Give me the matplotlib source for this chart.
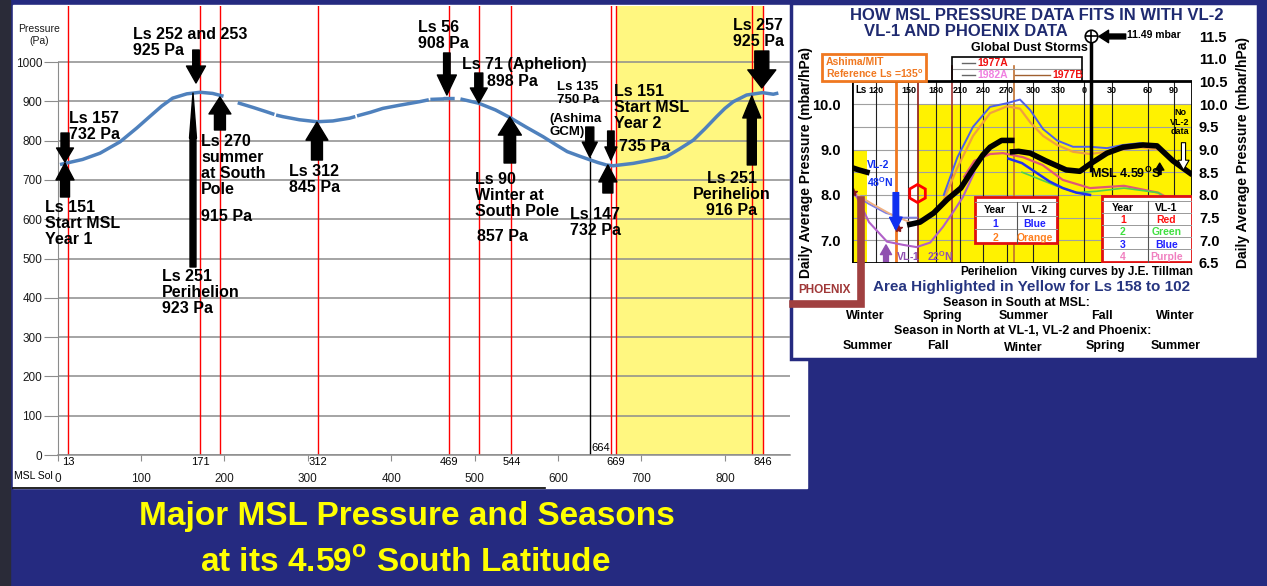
import matplotlib.pyplot as plt
import numpy as np
from matplotlib.patches import Rectangle
from matplotlib.lines import Line2D

W, H = 1267, 586
nan = np.nan

# ---------------- main chart: MSL daily pressure
msl_sol = [5, 30, 51, 75, 95, 111, 125, 138, 155, 171, 186, 197, nan,
           218, 235, 251, 258, nan, 264, 270, 290, 311, 330, 350, 355, nan,
           361, 375, 390, 410, 434, 443, nan, 449, 461, nan, 465, 474, nan,
           485, 505, 525, 542, 562, 582, 597, 611, 625, 637, 648, 658, 666,
           678, 690, 710, 730, 745, 762, 776, 790, 800, 810, 826, 845, 858, 862]
msl_pa = [740, 752, 768, 797, 832, 862, 888, 908, 919, 923, 920, 914, nan,
          895, 884, 873, 868, nan, 864, 861, 853, 848, 850, 857, 860, nan,
          864, 872, 882, 890, 899, 903, nan, 905, 906, nan, 907, 907, nan,
          905, 895, 878, 859, 834, 810, 790, 772, 761, 752, 744, 738, 736,
          739, 742, 750, 759, 778, 801, 830, 861, 882, 899, 916, 922, 918, 920]

red_line_sols = [13, 171, 195, 312, 469, 505, 544, 664, 669, 832, 846]
labelled_sols = [13, 171, 312, 469, 544, 669, 846]
ashima_sol, ashima_pa = 638, 758
yellow_sols = (669, 846)
pa_ticks = list(range(0, 1001, 100))
sol_ticks = list(range(0, 801, 100))

# arrows: sol, tip Pa, tail Pa, shaft / head width / head length (px)
arrows = [
    (166.0, 946.6, 1030.5, 6.5, 19, 17),
    (9.0, 745.5, 819.3, 8, 17, 14),
    (9.0, 743.0, 656.5, 9, 18, 17),
    (194.7, 911.0, 827.0, 11, 22, 17),
    (311.0, 847.0, 750.6, 11, 22, 18),
    (466.7, 916.0, 1023.0, 6.5, 19, 20),
    (505.0, 895.7, 972.0, 8, 17, 15),
    (542.2, 860.0, 743.0, 11.5, 23, 18),
    (638.0, 758.0, 834.6, 8, 15, 15),
    (663.3, 750.6, 824.4, 6.5, 12, 13),
    (659.7, 738.0, 666.7, 10, 18, 17),
    (844.2, 934.0, 1028.0, 14, 28, 18),
    (832.2, 913.5, 738.0, 9, 18, 22),
    (162.4, 921.0, 478.4, 6, 7, 45),
]

# ---------------- inset (Viking / Phoenix comparison), x in % of the frame
ls_labels = ['120', '150', '180', '210', '240', '270', '300', '330', '0', '30', '60', '90']
ls_pos = [7.1, 16.6, 24.6, 31.8, 38.6, 45.5, 53.3, 60.7, 68.2, 76.4, 87.1, 94.7]
left_ticks = [10.0, 9.0, 8.0, 7.0]
right_ticks = [11.5, 11.0, 10.5, 10.0, 9.5, 9.0, 8.5, 8.0, 7.5, 7.0, 6.5]

msl_u = [0, 2, 4.4, nan, 17, 20, 24, 28, 32, 35, 38.5, 40.6, 44, 47, nan, 47.2, 49,
         52.4, 57, 63, 67, 70, 75, 79.7, 85.6, 89.7, 94.4, 99.4]
msl_p = [8.6, 8.55, 8.5, nan, 7.35, 7.4, 7.6, 7.9, 8.15, 8.5, 8.88, 9.05, 9.2, 9.2, nan,
         8.95, 8.96, 8.92, 8.75, 8.55, 8.52, 8.68, 8.92, 9.05, 9.1, 9.08, 8.75, 8.48]
spike_u, spike_p = 70.3, 11.49

vl2_u = [27, 31, 35.6, 40.6, 45.6, 49.4, 52.4, 56.2, 60.3, 65, 70, 75, 79.7, 84.7, 89.7]
vl2_y1 = [8.0, 8.83, 9.5, 9.94, 10.02, 10.1, 9.87, 9.45, 9.2, 9.06, 9.06, 9.03, 9.1, 9.14, 9.06]
vl2_y2 = [7.9, 8.6, 9.3, 9.8, 9.95, 9.9, 9.6, 9.3, 9.1, 8.95, 8.9, 8.95, 9.0, 9.05, 9.0]
vl2_left_u = [0.5, 5, 10, 15, 19]
vl2_left_p = [8.0, 7.8, 7.6, 7.5, 7.5]

vl1_u = [33, 36, 40.6, 44.4, 50.3, 56, 62, 70, 80, 90, 95, 99.4]
vl1_red = [8.4, 8.75, 8.9, 8.92, 8.83, 8.66, 8.33, 8.15, 8.2, 8.05, 7.85, 7.62]
vl1_green_u = [50, 55, 60, 66, 72, 80, 90, 99]
vl1_green = [8.5, 8.35, 8.2, 8.05, 8.08, 8.15, 8.05, 7.6]
vl1_blue_u = [46, 50, 54, 58, 62, 66, 70]
vl1_blue = [8.8, 8.7, 8.5, 8.3, 8.15, 8.05, 8.0]
vl1_purple_u = [0.5, 5, 10.3, 15, 19, 23, 26.8, 30, 32.6, 36]
vl1_purple = [8.1, 7.4, 6.97, 6.9, 6.85, 6.95, 7.3, 7.65, 7.95, 8.5]
phx_u = [0.5, 6, 12, 17]
phx_p = [8.05, 7.8, 7.55, 7.4]
ashima_u = 12.9
dust_u = [19.4, 29.4, 47.6]
dust_colors = ['#8B1A1A', '#A03030', '#C07030']

NAVY = '#252A80'
SANS = ['Liberation Sans', 'DejaVu Sans']
NARROW = ['Liberation Sans Narrow', 'Liberation Sans', 'DejaVu Sans']
plt.rcParams['font.family'] = SANS
plt.rcParams['mathtext.fontset'] = 'custom'
plt.rcParams['mathtext.rm'] = 'Liberation Sans'
plt.rcParams['mathtext.bf'] = 'Liberation Sans:bold'


def fx(px):
    return px / W


def fy(py):
    return 1 - py / H


fig = plt.figure(figsize=(W / 100, H / 100), dpi=100)
fig.patch.set_facecolor(NAVY)
fig.patches.append(Rectangle((0, 0), fx(10), 1, transform=fig.transFigure,
                             color='#2A2B38', zorder=-2))
fig.patches.append(Rectangle((fx(13), fy(488)), (807 - 13) / W, (488 - 5) / H,
                             transform=fig.transFigure, color='white', zorder=-2))
fig.patches.append(Rectangle((fx(791), fy(359)), (1258 - 791) / W, (359 - 3) / H,
                             transform=fig.transFigure, fc='white', ec=NAVY, lw=2.5, zorder=-1.5))
fig.lines.append(Line2D([fx(13), fx(545)], [fy(488), fy(488)], transform=fig.transFigure,
                        color='black', lw=1.2))

# ================= main chart
ax = fig.add_axes([57.5 / W, fy(455), 732.5 / W, 448.8 / H])
ax.patch.set_alpha(0)
ax.set_xlim(0, 878)
ax.set_ylim(0, 1142)
ax.axvspan(*yellow_sols, color='#FFF780', zorder=0, lw=0)
ax.set_yticks(pa_ticks)
ax.set_xticks(sol_ticks)
ax.yaxis.grid(True, color='#8C8C8C', lw=1.1, zorder=0.5)
ax.set_axisbelow(True)
for s in red_line_sols:
    ax.axvline(s, color='#FF0000', lw=1, zorder=1)
ax.plot([ashima_sol, ashima_sol], [0, ashima_pa], color='black', lw=1, zorder=1)
ax.plot(msl_sol, msl_pa, color='#4F81BD', lw=2.5, zorder=3)

for side in ['top', 'right']:
    ax.spines[side].set_visible(False)
ax.spines['left'].set_bounds(0, 1000)
ax.spines['left'].set_color('#8C8C8C')
ax.spines['bottom'].set_color('#8C8C8C')
ax.spines['bottom'].set_linewidth(1.1)
ax.tick_params(axis='y', length=10, color='#8C8C8C', labelsize=8.5, pad=1, labelcolor='#1A1A1A')
ax.tick_params(axis='x', length=4, color='#8C8C8C', labelsize=8.5, pad=9, labelcolor='#1A1A1A')
for lab in ax.get_xticklabels():
    lab.set_family(NARROW)

for s in labelled_sols:
    ax.annotate(str(s), (s, 0), xytext=(0, -1.5), textcoords='offset points',
                ha='center', va='top', fontsize=8, family=NARROW)
ax.annotate('664', (664, 0), xytext=(-1, 1.5), textcoords='offset points',
            ha='right', va='bottom', fontsize=8, family=NARROW)
fig.text(fx(14), fy(476), 'MSL Sol', va='center', fontsize=7.5, family=NARROW)
fig.text(fx(39), fy(35), 'Pressure\n(Pa)', ha='center', va='center', fontsize=7.5,
         linespacing=1.25, color='#1A1A1A')

for s, tip, tail, shaft, hw, hl in arrows:
    style = 'simple,head_width=%.1f,head_length=%.1f,tail_width=%.1f' % (hw * 0.72, hl * 0.72, shaft * 0.72)
    ax.annotate('', xy=(s, tip), xytext=(s, tail),
                arrowprops=dict(arrowstyle=style, color='black', mutation_scale=1,
                                shrinkA=0, shrinkB=0), zorder=4)

notes = [
    (133, 27, 'Ls 252 and 253\n925 Pa', 'left'),
    (69, 111, 'Ls 157\n732 Pa', 'left'),
    (45, 200, 'Ls 151\nStart MSL\nYear 1', 'left'),
    (162, 269, 'Ls 251\nPerihelion\n923 Pa', 'left'),
    (201, 134, 'Ls 270\nsummer\nat South\nPole', 'left'),
    (201, 209, '915 Pa', 'left'),
    (289, 164, 'Ls 312\n845 Pa', 'left'),
    (418, 20, 'Ls 56\n908 Pa', 'left'),
    (462, 57, 'Ls 71 (Aphelion)', 'left'),
    (487, 74, '898 Pa', 'left'),
    (475, 172, 'Ls 90\nWinter at\nSouth Pole', 'left'),
    (477, 229, '857 Pa', 'left'),
    (614, 84, 'Ls 151\nStart MSL\nYear 2', 'left'),
    (619, 139, '735 Pa', 'left'),
    (570, 207, 'Ls 147\n732 Pa', 'left'),
    (733, 18, 'Ls 257\n925 Pa', 'left'),
]
for px, py, txt, ha in notes:
    fig.text(fx(px), fy(py), txt, ha=ha, va='top', fontsize=11.5, fontweight='bold',
             linespacing=1.08)
fig.text(fx(732), fy(171), 'Ls 251\nPerihelion\n916 Pa', ha='center', va='top',
         fontsize=11.5, fontweight='bold', linespacing=1.08, multialignment='center')
fig.text(fx(578), fy(81), 'Ls 135\n750 Pa', ha='center', va='top', fontsize=9.5,
         fontweight='bold', linespacing=1.12)
fig.text(fx(549), fy(113), '(Ashima\nGCM)', ha='left', va='top', fontsize=9.5,
         fontweight='bold', linespacing=1.12)

# bottom title
fig.text(fx(407), fy(517), 'Major MSL Pressure and Seasons', ha='center', va='center',
         color='#FFFF00', fontsize=24, fontweight='bold', family=NARROW)
fig.text(fx(405), fy(563), r'at its 4.59$^{\mathbf{o}}$ South Latitude', ha='center',
         va='center', color='#FFFF00', fontsize=24, fontweight='bold', family=NARROW)

# ================= inset chart
ix = fig.add_axes([fx(852), fy(263), 340 / W, 227 / H])
ix.patch.set_alpha(0)
ix.set_xlim(0, 100)
ix.set_ylim(6.5, 11.5)
for sp in ix.spines.values():
    sp.set_visible(False)
ix.add_patch(Rectangle((19.4, 6.5), 80.6, 3.5, color='#FFF200', lw=0, zorder=0))
ix.add_patch(Rectangle((0, 6.5), 4.4, 2.5, color='#FFF200', lw=0, zorder=0))
for p in np.arange(7.0, 10.01, 0.5):
    ix.plot([0, 100], [p, p], color='#A0A0A0', lw=0.8, zorder=0.5)
for u in ls_pos:
    ix.plot([u, u], [6.5, 10.5], color='#202020', lw=0.8, zorder=0.6)
for u, c in zip(dust_u, dust_colors):
    ix.plot([u, u], [6.5, 10.85], color=c, lw=1.2, zorder=0.7)
ix.plot([ashima_u, ashima_u], [6.5, 10.49], color='#F07820', lw=2, zorder=2)
ix.add_patch(Rectangle((0, 6.5), 100, 4.0, fill=False, ec='black', lw=2, zorder=5))

ix.plot(vl2_left_u, vl2_left_p, color='#8080E0', lw=1.3, zorder=2)
ix.plot(phx_u, phx_p, color='#F0B080', lw=1.3, zorder=2)
ix.plot(vl1_purple_u, vl1_purple, color='#B060C8', lw=1.5, zorder=2)
ix.plot(vl1_u, vl1_red, color='#E05878', lw=1.6, zorder=2)
ix.plot(vl1_green_u, vl1_green, color='#50D050', lw=1.2, zorder=2)
ix.plot(vl1_blue_u, vl1_blue, color='#2030F0', lw=1.8, zorder=2)
ix.plot(vl2_u, vl2_y2, color='#F0A040', lw=1.6, zorder=2)
ix.plot(vl2_u, vl2_y1, color='#5060E8', lw=1.4, zorder=2)
ix.plot(msl_u, msl_p, color='black', lw=4, zorder=3)
ix.plot([spike_u, spike_u], [8.55, spike_p], color='black', lw=2.5, zorder=3)
ix.plot([spike_u], [spike_p], marker='o', ms=9, mfc='white', mec='black', mew=1.2, zorder=6,
        clip_on=False)
ix.plot([spike_u], [spike_p], marker='+', ms=9, color='black', mew=1.2, zorder=6, clip_on=False)
ix.plot([19.1], [8.04], marker='h', ms=13, mfc='none', mec='red', mew=2, zorder=4)
ix.plot([0.3, 13.5], [8.06, 7.27], ls='none', marker='*', ms=6, color='#8B1A1A', zorder=4)

ix.annotate('', xy=(ashima_u, 7.23), xytext=(ashima_u, 8.05),
            arrowprops=dict(arrowstyle='simple,head_width=9,head_length=9,tail_width=4',
                            color='#1030F0', mutation_scale=1, shrinkA=0, shrinkB=0), zorder=4)
ix.annotate('', xy=(10, 6.9), xytext=(10, 6.52),
            arrowprops=dict(arrowstyle='simple,head_width=8,head_length=7,tail_width=3.5',
                            color='#9050B0', mutation_scale=1, shrinkA=0, shrinkB=0), zorder=4)
ix.annotate('', xy=(90.5, 8.7), xytext=(90.5, 8.45),
            arrowprops=dict(arrowstyle='simple,head_width=6,head_length=5,tail_width=2',
                            color='black', mutation_scale=1, shrinkA=0, shrinkB=0), zorder=4)
ix.annotate('', xy=(97.5, 8.55), xytext=(97.5, 9.15),
            arrowprops=dict(arrowstyle='simple,head_width=8,head_length=7,tail_width=3',
                            fc='white', ec='black', lw=0.8, mutation_scale=1,
                            shrinkA=0, shrinkB=0), zorder=4)

ix.set_yticks(left_ticks)
ix.set_yticklabels(['%.1f' % v for v in left_ticks], fontsize=10.5, fontweight='bold', family=NARROW)
ix.tick_params(axis='y', length=0, pad=8)
ix.set_xticks([])
ir = ix.twinx()
for sp in ir.spines.values():
    sp.set_visible(False)
ir.set_ylim(6.5, 11.5)
ir.set_yticks(right_ticks)
ir.set_yticklabels(['%.1f' % v for v in right_ticks], fontsize=10.5, fontweight='bold', family=NARROW)
ir.tick_params(axis='y', length=0, pad=5)

ix.text(2.5, 10.31, 'Ls', fontsize=7, fontweight='bold', family=NARROW, va='center', ha='center')
for u, lab in zip(ls_pos, ls_labels):
    ix.text(u, 10.31, lab, fontsize=6.5, fontweight='bold', family=NARROW, va='center', ha='center')


# tables
def table(u0, u1, p0, p1, udiv, rows, header, colors, ucols):
    ix.add_patch(Rectangle((u0, p0), u1 - u0, p1 - p0, fc='white', ec='#E01010', lw=2, zorder=6))
    n = len(rows) + 1
    step = (p1 - p0) / (n + 0.4)
    for k in range(1, n + 1):
        ix.plot([u0, u1], [p1 - (k - 0.6) * step] * 2, color='#999999', lw=0.7, zorder=6.5)
    ix.plot([udiv, udiv], [p0, p1 - 0.4 * step], color='#555555', lw=0.8, zorder=6.5)
    ix.text(ucols[0], p1 - 1.0 * step, header[0], ha='center', va='center', fontsize=7.5,
            fontweight='bold', family=NARROW, zorder=7)
    ix.text(ucols[1], p1 - 1.0 * step, header[1], ha='center', va='center', fontsize=7.5,
            fontweight='bold', family=NARROW, zorder=7)
    for k, (yr, name) in enumerate(rows):
        pp = p1 - (k + 2.0) * step
        ix.text(ucols[0], pp, yr, ha='center', va='center', fontsize=7.5, fontweight='bold',
                family=NARROW, color=colors[k], zorder=7)
        ix.text(ucols[1], pp, name, ha='center', va='center', fontsize=7.5, fontweight='bold',
                family=NARROW, color=colors[k], zorder=7)


table(36.2, 60.3, 6.94, 7.96, 48.5, [('1', 'Blue'), ('2', 'Orange')], ('Year', 'VL -2'),
      ['#2020FF', '#FF8020'], (42.1, 53.8))
table(73.4, 99.9, 6.53, 7.98, 87.2, [('1', 'Red'), ('2', 'Green'), ('3', 'Blue'), ('4', 'Purple')],
      ('Year', 'VL-1'), ['#FF1010', '#40E040', '#2020FF', '#F080C0'], (79.7, 92.5))

# inset labels in figure pixels
fig.text(fx(1037), fy(16), 'HOW MSL PRESSURE DATA FITS IN WITH VL-2', ha='center', va='center',
         fontsize=12, fontweight='bold', color='#1F2A70', family=NARROW)
fig.text(fx(966), fy(32), 'VL-1 AND PHOENIX DATA', ha='center', va='center',
         fontsize=12, fontweight='bold', color='#1F2A70', family=NARROW)
fig.text(fx(1029), fy(48), 'Global Dust Storms', ha='center', va='center', fontsize=9,
         fontweight='bold', family=NARROW)
fig.patches.append(Rectangle((fx(952), fy(81)), 130 / W, 24 / H, transform=fig.transFigure,
                             fill=False, ec='black', lw=1.2, zorder=3))
fig.lines.append(Line2D([fx(952), fx(1082)], [fy(69), fy(69)], transform=fig.transFigure,
                        color='#999999', lw=0.8))
fig.lines.append(Line2D([fx(962), fx(975)], [fy(63), fy(63)], transform=fig.transFigure,
                        color='#666666', lw=1))
fig.lines.append(Line2D([fx(962), fx(975)], [fy(75), fy(75)], transform=fig.transFigure,
                        color='#666666', lw=1))
fig.lines.append(Line2D([fx(1015), fx(1050)], [fy(75), fy(75)], transform=fig.transFigure,
                        color='#A06030', lw=1))
fig.text(fx(977), fy(63), '1977A', va='center', fontsize=7.5, fontweight='bold', color='#F01010',
         family=NARROW)
fig.text(fx(977), fy(75), '1982A', va='center', fontsize=7.5, fontweight='bold', color='#F080E0',
         family=NARROW)
fig.text(fx(1052), fy(75), '1977B', va='center', fontsize=7.5, fontweight='bold', color='#F01010',
         family=NARROW)
fig.text(fx(1127), fy(35), '11.49 mbar', va='center', fontsize=7.5, fontweight='bold',
         family=NARROW)
ix.annotate('', xy=(72.6, 11.49), xytext=(80.5, 11.49),
            arrowprops=dict(arrowstyle='simple,head_width=9,head_length=7,tail_width=3.5',
                            color='black', mutation_scale=1, shrinkA=0, shrinkB=0),
            annotation_clip=False)

fig.patches.append(Rectangle((fx(822), fy(81)), 104 / W, 27 / H, transform=fig.transFigure,
                             fc='white', ec='#F07820', lw=2, zorder=3))
fig.text(fx(826), fy(62), 'Ashima/MIT', va='center', fontsize=7.5, fontweight='bold',
         color='#F07820', family=NARROW, zorder=4)
fig.text(fx(826), fy(74), r'Reference Ls =135$^{\mathbf{o}}$', va='center', fontsize=7.5,
         fontweight='bold', color='#F07820', family=NARROW, zorder=4)

fig.text(fx(867), fy(165), 'VL-2', va='center', fontsize=7.5, fontweight='bold', color='#1030F0',
         family=NARROW, zorder=8)
fig.text(fx(867), fy(182), r'48$^{\mathbf{O}}$N', va='center', fontsize=7.5, fontweight='bold',
         color='#1030F0', family=NARROW, zorder=8)
fig.text(fx(896), fy(256), r'VL-1   22$^{\mathbf{O}}$N', va='center', fontsize=7.5, fontweight='bold',
         color='#9050B0', family=NARROW, zorder=8)
fig.text(fx(1090), fy(173), r'MSL 4.59$^{\mathbf{O}}$S', va='center', fontsize=9, fontweight='bold',
         family=NARROW, zorder=8)
fig.text(fx(1180), fy(108), 'No\nVL-2\ndata', ha='center', va='top', fontsize=6.5,
         fontweight='bold', family=NARROW, linespacing=1.1, zorder=8)

fig.text(fx(806), fy(163), 'Daily Average Pressure (mbar/hPa)', rotation=90, ha='center',
         va='center', fontsize=10, fontweight='bold', family=NARROW)
fig.text(fx(1243), fy(152), 'Daily Average Pressure (mbar/hPa)', rotation=90, ha='center',
         va='center', fontsize=10, fontweight='bold', family=NARROW)

fig.text(fx(960), fy(272), 'Perihelion', va='center', fontsize=8.5, fontweight='bold', family=NARROW)
fig.text(fx(1031), fy(272), 'Viking curves by J.E. Tillman', va='center', fontsize=8.5,
         fontweight='bold', family=NARROW)
fig.text(fx(1032), fy(287), 'Area Highlighted in Yellow for Ls 158 to 102', ha='center',
         va='center', fontsize=11, fontweight='bold', color='#263580', family=NARROW)
fig.text(fx(1016), fy(303), 'Season in South at MSL:', ha='center', va='center', fontsize=9,
         fontweight='bold', family=NARROW)
fig.text(fx(1023), fy(331), 'Season in North at VL-1, VL-2 and Phoenix:', ha='center',
         va='center', fontsize=9, fontweight='bold', family=NARROW)
for cx, s in zip([865, 942, 1024, 1102, 1175], ['Winter', 'Spring', 'Summer', 'Fall', 'Winter']):
    fig.text(fx(cx), fy(316), s, ha='center', va='center', fontsize=9, fontweight='bold',
             family=NARROW)
for cx, cy, s in zip([868, 938, 1023, 1105, 1176], [346, 346, 348, 346, 346],
                     ['Summer', 'Fall', 'Winter', 'Spring', 'Summer']):
    fig.text(fx(cx), fy(cy), s, ha='center', va='center', fontsize=9, fontweight='bold',
             family=NARROW)

fig.lines.append(Line2D([fx(861), fx(861), fx(793)], [fy(200), fy(304), fy(304)],
                        transform=fig.transFigure, color='#A04040', lw=5.5, solid_joinstyle='miter'))
fig.text(fx(798), fy(290), 'PHOENIX', va='center', fontsize=8.5, fontweight='bold',
         color='#A03838', family=NARROW)

fig.savefig('out.png', dpi=100, facecolor=fig.get_facecolor())
